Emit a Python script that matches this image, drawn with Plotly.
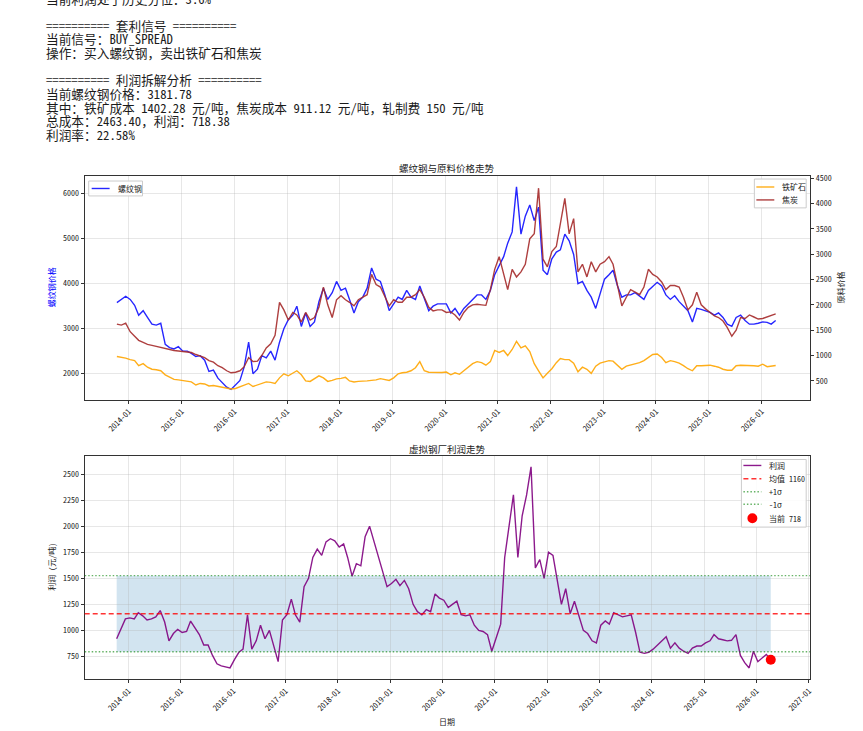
import pandas as pd
import plotly.graph_objects as go
from plotly.subplots import make_subplots

# monthly readings, 2013-10 .. 2026-04 (151 months)
dates = pd.date_range("2013-10-01", periods=151, freq="MS") + pd.Timedelta(days=9)

rebar = [
    3580, 3650, 3720,
    3650, 3520, 3300, 3400, 3250, 3100, 3080, 3120, 2650, 2580, 2550, 2600,
    2500, 2500, 2450, 2380, 2400, 2300, 2050, 2080, 1900, 1800, 1700, 1650,
    1750, 1850, 2150, 2700, 2000, 2100, 2400, 2350, 2500, 2300, 2700, 3000,
    3200, 3300, 3500, 3050, 3350, 3050, 3150, 3600, 3900, 3650, 3800, 4050,
    3850, 3900, 3650, 3350, 3600, 3700, 3900, 4350, 4100, 4050, 3750, 3400,
    3550, 3700, 3650, 3850, 3700, 3650, 3950, 3650, 3400, 3500, 3550, 3550,
    3550, 3350, 3450, 3300, 3450, 3550, 3650, 3750, 3750, 3650, 3850, 4200,
    4400, 4600, 4900, 5150, 6150, 5100, 5500, 5750, 5400, 5700, 4300, 4200,
    4550, 4700, 4750, 5100, 4950, 4650, 4000, 4050, 3850, 3700, 3450, 3800,
    4100, 4200, 4300, 3950, 3700, 3750, 3750, 3800, 3730, 3650, 3850, 3950,
    4030, 3950, 3750, 3650, 3730, 3600, 3500, 3400, 3150, 3450, 3430, 3400,
    3360, 3300, 3350, 3250, 3100, 3050, 3250, 3300, 3180, 3100, 3100, 3120,
    3150, 3140, 3100, 3180,
]

iron_ore = [
    980, 970, 950,
    920, 900, 800, 840, 770, 730, 720, 700, 620, 580, 530, 520,
    510, 500, 480, 420, 450, 440, 400, 410, 390, 380, 350, 340,
    350, 380, 420, 450, 390, 420, 450, 480, 470, 450, 560, 640,
    600, 650, 700, 620, 500, 490, 540, 600, 560, 490, 510, 540,
    550, 570, 500, 480, 490, 490, 500, 510, 520, 545, 530, 510,
    560, 640, 660, 670, 700, 760, 880, 700, 670, 665, 660, 665,
    675, 620, 660, 630, 700, 780, 840, 880, 860, 810, 880, 1100,
    1060, 1100, 1000, 1120, 1280, 1150, 1190, 1080, 840, 700, 560, 650,
    740, 860, 940, 920, 920, 850, 680, 770, 730, 650, 790, 850,
    870, 900, 890, 800, 730, 790, 810, 840, 860, 900, 960, 1020,
    1030, 960, 860, 900, 880, 850, 800, 740, 700, 800, 800, 810,
    810, 790, 770, 730, 710, 710, 800, 810, 810, 810, 800, 790,
    830, 780, 790, 805,
]

coke = [
    1620, 1600, 1640,
    1470, 1380, 1300, 1260, 1220, 1200, 1180, 1150, 1130, 1110, 1100, 1090,
    1080, 1070, 1060, 1020, 990, 960, 900, 870, 800, 760, 700, 660,
    670, 700, 780, 960, 880, 890, 1000, 1150, 1230, 1400, 2050, 1900,
    1700, 1850, 1800, 1660, 1850, 1700, 1750, 1950, 2350, 2000, 1750, 2100,
    2180, 2100, 2050, 1980, 2100, 2150, 2200, 2600, 2400, 2350, 2150, 1980,
    2100, 2050, 2050, 2150, 2150, 2200, 2300, 2150, 1950, 1880, 1900, 1900,
    1850, 1860, 1800, 1700, 1850, 1950, 2000, 2010, 2000, 1990, 2300, 2700,
    2950, 2600, 2300, 2700, 2550, 2650, 2800, 3300, 3400, 4300, 2900, 2750,
    3050, 3150, 3600, 4100, 3400, 3700, 2650, 2800, 2550, 2850, 2650, 2800,
    2850, 2950, 2800, 2350, 1980, 2150, 2300, 2250, 2200, 2350, 2700, 2600,
    2550, 2450, 2300, 2380, 2380, 2350, 2150, 1900, 2000, 2250, 2000, 1920,
    1850, 1780, 1750, 1680, 1550, 1380, 1500, 1750, 1730, 1800, 1760, 1720,
    1730, 1760, 1790, 1820,
]

profit = [
    920, 1020, 1110,
    1120, 1110, 1170, 1140, 1100, 1110, 1130, 1190, 1080, 900, 970, 1010,
    980, 990, 1090, 1020, 960, 860, 860, 760, 680, 660, 650, 640,
    720, 790, 820, 1150, 820, 900, 1050, 920, 1000, 860, 700, 1100,
    1150, 1300, 1150, 1080, 1420, 1500, 1700, 1780, 1720, 1850, 1880, 1860,
    1800, 1830, 1700, 1520, 1640, 1620, 1900, 2000, 1850, 1720, 1550, 1420,
    1450, 1490, 1430, 1480, 1400, 1250, 1180, 1150, 1200, 1180, 1350, 1310,
    1290, 1220, 1250, 1280, 1150, 1140, 1150, 1050, 1000, 990, 960, 800,
    930, 1060, 1700, 2000, 2300, 1700, 2100, 2300, 2570, 1600, 1680, 1500,
    1750, 1720, 1500, 1250, 1400, 1160, 1280, 1130, 1000, 970, 900, 880,
    1050, 1090, 1060, 1170, 1150, 1130, 1140, 1150, 980, 790, 780, 790,
    820, 860, 900, 940, 830, 880, 830, 800, 780, 830, 850, 850,
    880, 900, 960, 920, 910, 900, 905, 960, 760, 690, 640, 800,
    700, 740, 770, 718,
]

profit_mean = 1160
profit_std = 365
current_profit = 718

top_years = list(range(2014, 2027))
bottom_years = list(range(2014, 2028))

text_lines = [
    "当前利润处于历史分位：3.6%",
    "",
    "========== 套利信号 ==========",
    "当前信号：BUY_SPREAD",
    "操作：买入螺纹钢，卖出铁矿石和焦炭",
    "",
    "========== 利润拆解分析 ==========",
    "当前螺纹钢价格：3181.78",
    "其中：铁矿成本 1402.28 元/吨，焦炭成本 911.12 元/吨，轧制费 150 元/吨",
    "总成本：2463.40，利润：718.38",
    "利润率：22.58%",
]

W, H = 863, 731
MONO = "Noto Sans Mono CJK SC, Noto Sans CJK SC, DejaVu Sans Mono, monospace"
SANS = "Noto Sans Mono CJK SC, Noto Sans CJK SC, sans-serif"


def fx(p):
    return p / W


def fy(p):
    return 1 - p / H


fig = make_subplots(rows=2, cols=1, specs=[[{"secondary_y": True}], [{}]])

BLUE = "rgba(0,0,255,0.85)"
ORANGE = "rgba(255,165,0,0.9)"
BROWN = "rgba(165,42,42,0.9)"
PURPLE = "rgba(128,0,128,0.9)"
RED = "rgba(255,0,0,0.8)"
GREEN = "rgba(0,128,0,0.6)"
LW = 1.4

fig.add_trace(go.Scatter(x=dates, y=rebar, name="螺纹钢", mode="lines",
                         line=dict(color=BLUE, width=LW)), row=1, col=1, secondary_y=False)
fig.add_trace(go.Scatter(x=dates, y=iron_ore, name="铁矿石", mode="lines",
                         line=dict(color=ORANGE, width=LW)), row=1, col=1, secondary_y=True)
fig.add_trace(go.Scatter(x=dates, y=coke, name="焦炭", mode="lines",
                         line=dict(color=BROWN, width=LW)), row=1, col=1, secondary_y=True)
fig.add_trace(go.Scatter(x=dates, y=profit, name="利润", mode="lines",
                         line=dict(color=PURPLE, width=LW)), row=2, col=1)
fig.add_trace(go.Scatter(x=[dates[-1]], y=[current_profit], name=f"当前 {current_profit}",
                         mode="markers", marker=dict(color="red", size=10)), row=2, col=1)

fig.add_shape(type="rect", xref="x2", yref="y3", x0=dates[0], x1=dates[-1],
              y0=profit_mean - profit_std, y1=profit_mean + profit_std,
              fillcolor="rgba(31,119,180,0.2)", line=dict(width=0), layer="below")
for val, col, dash in [(profit_mean, RED, "5px,3px"),
                       (profit_mean + profit_std, GREEN, "1.5px,2px"),
                       (profit_mean - profit_std, GREEN, "1.5px,2px")]:
    fig.add_shape(type="line", xref="x2 domain", yref="y3", x0=0, x1=1, y0=val, y1=val,
                  line=dict(color=col, width=1.3, dash=dash))

grid = "rgba(176,176,176,0.3)"
axis_common = dict(showline=True, linecolor="#333", linewidth=1, ticks="outside",
                   ticklen=3, tickcolor="#333", tickfont=dict(family=SANS, size=8, color="#222"))

top_ticks = [pd.Timestamp(f"{y}-01-01") for y in top_years]
bottom_ticks = [pd.Timestamp(f"{y}-01-01") for y in bottom_years]

fig.update_layout(
    width=W, height=H, autosize=False,
    margin=dict(l=0, r=0, t=0, b=0),
    paper_bgcolor="white", plot_bgcolor="white",
    font=dict(family=SANS, size=8, color="#222"),
    showlegend=False,
    xaxis=dict(domain=[fx(85), fx(813)], range=["2013-03-01", "2026-12-05"],
               tickvals=top_ticks, tickformat="%Y-%m", tickangle=-45,
               showgrid=True, gridcolor=grid, mirror=True, **axis_common),
    yaxis=dict(domain=[fy(398), fy(173)], range=[1419, 6391], dtick=1000,
               showgrid=True, gridcolor=grid, mirror=True, **axis_common),
    yaxis2=dict(range=[127, 4539], tickvals=list(range(500, 5000, 500)),
                showgrid=False, **axis_common),
    xaxis2=dict(domain=[fx(85), fx(813)], range=["2013-03-01", "2027-01-10"],
                tickvals=bottom_ticks, tickformat="%Y-%m", tickangle=-45,
                showgrid=True, gridcolor=grid, mirror=True, **axis_common),
    yaxis3=dict(domain=[fy(679), fy(454)], range=[531, 2678],
                tickvals=list(range(750, 2750, 250)),
                showgrid=True, gridcolor=grid, mirror=True, **axis_common),
)


# matplotlib-style legends drawn in page pixels
def legend_box(x0, y0, x1, y1):
    fig.add_shape(type="rect", xref="paper", yref="paper",
                  x0=fx(x0), x1=fx(x1), y0=fy(y1), y1=fy(y0),
                  fillcolor="rgba(255,255,255,0.85)", line=dict(color="#cccccc", width=1))


def legend_item(x0, y, text, color, dash="solid", dot=False):
    if dot:
        fig.add_shape(type="circle", xref="paper", yref="paper",
                      x0=fx(x0 + 4), x1=fx(x0 + 14), y0=fy(y + 5), y1=fy(y - 5),
                      fillcolor="red", line=dict(width=0))
    else:
        fig.add_shape(type="line", xref="paper", yref="paper",
                      x0=fx(x0), x1=fx(x0 + 18), y0=fy(y), y1=fy(y),
                      line=dict(color=color, width=LW, dash=dash))
    fig.add_annotation(xref="paper", yref="paper", x=fx(x0 + 24), y=fy(y),
                       xanchor="left", yanchor="middle", showarrow=False, text=text,
                       font=dict(family=SANS, size=8, color="#222"))


legend_box(89, 178, 143, 193)
legend_item(92, 185.5, "螺纹钢", BLUE)

legend_box(757, 176, 809, 205)
legend_item(759, 184, "铁矿石", ORANGE)
legend_item(759, 197, "焦炭", BROWN)

legend_box(744, 458, 809, 526)
legend_item(746, 464, "利润", PURPLE)
legend_item(746, 477.3, f"均值 {profit_mean}", RED, dash="5px,3px")
legend_item(746, 490.5, "+1σ", GREEN, dash="1.5px,2px")
legend_item(746, 503, "-1σ", GREEN, dash="1.5px,2px")
legend_item(746, 517, f"当前 {current_profit}", "red", dot=True)

# printed text block above the figure (rows of a fixed 13.7px pitch)
for i, line in enumerate(text_lines):
    if not line:
        continue
    fig.add_annotation(xref="paper", yref="paper", x=fx(45), y=fy(-6 + 13.7 * i),
                       xanchor="left", yanchor="middle", showarrow=False, text=line,
                       borderpad=0, font=dict(family=MONO, size=12.7, color="#1a1a1a"))

labels = [
    ("螺纹钢与原料价格走势", 449, 165, 0, 9.5, "#222"),
    ("虚拟钢厂利润走势", 449, 447, 0, 9.5, "#222"),
    ("螺纹钢价格", 52, 285, -90, 8, "blue"),
    ("原料价格", 843, 285, -90, 8, "#222"),
    ("利润 (元/吨)", 52, 566, -90, 8, "#222"),
    ("日期", 449, 721, 0, 8, "#222"),
]
for txt, px, py, ang, size, col in labels:
    fig.add_annotation(xref="paper", yref="paper", x=fx(px), y=fy(py),
                       xanchor="center", yanchor="middle", showarrow=False, text=txt,
                       textangle=ang, font=dict(family=SANS, size=size, color=col))

fig.write_html("out.html", config={"displayModeBar": False},
               post_script="document.body.style.margin='0';")
